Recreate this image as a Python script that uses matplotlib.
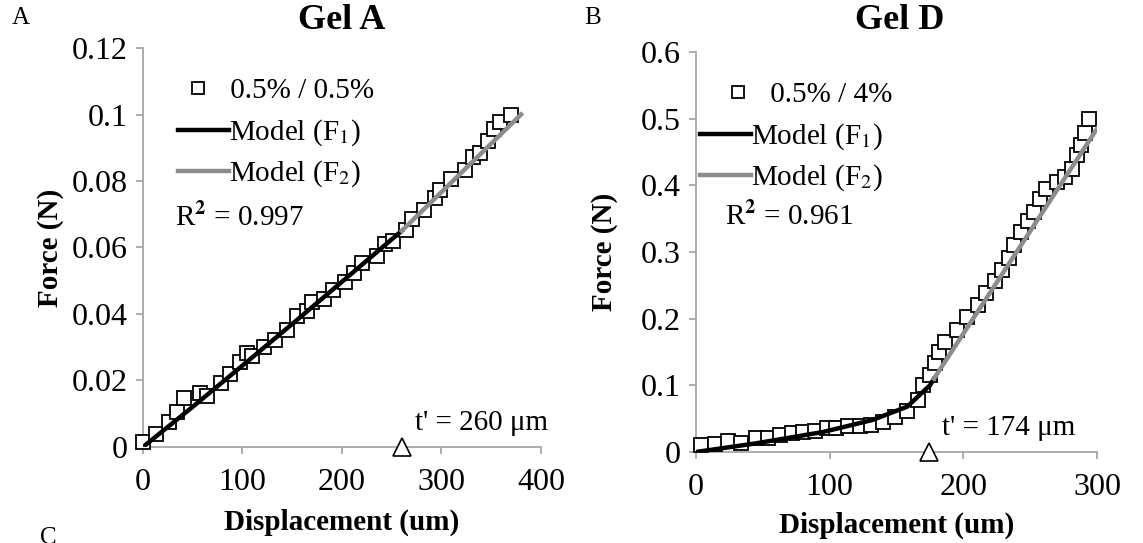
import matplotlib
matplotlib.use("Agg")
import matplotlib.pyplot as plt

plt.rcParams['font.family'] = ['Liberation Serif', 'DejaVu Serif']
plt.rcParams['mathtext.fontset'] = 'stix'

# Gel A (0.5% / 0.5%) measured points
gelA_x = [0, 13.5, 26, 34, 41, 57, 64, 78, 87, 97, 105, 110, 122, 133, 145, 155,
          165, 170, 182, 191, 203, 212, 220, 235, 243, 251, 264, 270, 282, 293,
          299, 310, 324, 332, 339, 347, 353, 359, 370]
gelA_y = [0.0014, 0.0038, 0.0074, 0.0105, 0.0148, 0.0162, 0.0154, 0.0193, 0.0219,
          0.0257, 0.0282, 0.0275, 0.0301, 0.0322, 0.0353, 0.0394, 0.0409, 0.0437,
          0.0445, 0.0471, 0.0497, 0.0523, 0.0554, 0.0574, 0.0610, 0.0621, 0.0652,
          0.0686, 0.0713, 0.0749, 0.0772, 0.0806, 0.0832, 0.0873, 0.0884, 0.0920,
          0.0956, 0.0976, 0.0997]
# model curves
gelA_f1_x = [0, 50, 100, 150, 200, 260]
gelA_f1_y = [0, 0.0121, 0.0245, 0.0370, 0.0497, 0.065]
gelA_f2_x = [260, 380]
gelA_f2_y = [0.065, 0.100]
gelA_t = 260

# Gel D (0.5% / 4%)
gelD_x = [4, 14, 24, 34, 45, 54, 63, 72, 80, 89, 98, 105, 114, 123, 131, 140,
          149, 158, 166, 170, 175, 179, 182, 186, 195, 203, 211, 217, 224, 229,
          234, 238, 243, 248, 253, 257, 262, 270, 276, 281, 285, 288, 291, 294]
gelD_y = [0.0105, 0.012, 0.017, 0.014, 0.0205, 0.021, 0.0255, 0.029, 0.030,
          0.0315, 0.0355, 0.0365, 0.039, 0.039, 0.0405, 0.0455, 0.053, 0.0615,
          0.078, 0.1, 0.115, 0.133, 0.150, 0.165, 0.183, 0.203, 0.2205, 0.238,
          0.256, 0.273, 0.291, 0.310, 0.330, 0.347, 0.360, 0.380, 0.395, 0.405,
          0.412, 0.425, 0.445, 0.46, 0.478, 0.50]
gelD_f1_x = [0, 45, 95, 132, 158, 175, 178]
gelD_f1_y = [0, 0.013, 0.030, 0.048, 0.068, 0.100, 0.110]
gelD_f2_x = [178, 300]
gelD_f2_y = [0.110, 0.485]
gelD_t = 174

axis_grey = '#a6a6a6'
model_grey = '#8c8c8c'

fig = plt.figure(figsize=(11.43, 5.43), dpi=100)
axA = fig.add_axes([0.1251, 0.1768, 0.3482, 0.7348])
axD = fig.add_axes([0.6089, 0.1676, 0.3509, 0.7366])


def style(ax, xlim, ylim, xticks, yticks, ylabels, ylab_x, xlab_y):
    ax.set_xlim(*xlim)
    ax.set_ylim(*ylim)
    ax.set_xticks(xticks)
    ax.set_yticks(yticks)
    ax.set_yticklabels(ylabels)
    for s in ['top', 'right']:
        ax.spines[s].set_visible(False)
    for s in ['left', 'bottom']:
        ax.spines[s].set_color(axis_grey)
        ax.spines[s].set_linewidth(1.3)
    ax.tick_params(direction='out', length=5, width=1.3, color=axis_grey,
                   labelsize=23)
    ax.tick_params(axis='x', pad=10)
    ax.tick_params(axis='y', pad=6)
    ax.set_xlabel('Displacement (um)', fontsize=21, fontweight='bold')
    ax.set_ylabel('Force (N)', fontsize=21, fontweight='bold')
    ax.yaxis.set_label_coords(ylab_x, 0.5)
    ax.xaxis.set_label_coords(0.5, xlab_y)


def panel(ax, x, y, f1x, f1y, f2x, f2y, t, name, r2, sq_x, leg_x, r2_xy):
    pts, = ax.plot(x, y, 's', ms=9.5, mfc='white', mec='black', mew=1.3,
                   clip_on=False, zorder=3)
    l1, = ax.plot(f1x, f1y, '-', color='black', lw=3.2, zorder=4)
    l2, = ax.plot(f2x, f2y, '-', color=model_grey, lw=3.2, zorder=4)
    ax.plot([t], [0], '^', ms=13, mfc='white', mec='black', mew=1.2,
            clip_on=False, zorder=5)
    kw = dict(loc='upper left', frameon=False, fontsize=21, handlelength=1.75,
              handletextpad=0.0, labelspacing=0.36, borderaxespad=0, borderpad=0)
    leg1 = ax.legend([pts], [' ' + name], bbox_to_anchor=(sq_x, 0.925),
                     markerscale=0.9, **kw)
    ax.add_artist(leg1)
    ax.legend([l1, l2], ['Model (F$_1$)', 'Model (F$_2$)'],
              bbox_to_anchor=(leg_x, 0.826), **kw)
    ax.text(r2_xy[0], r2_xy[1], 'R$^\\mathbf{2}$ = ' + r2, transform=ax.transAxes,
            fontsize=21, va='center')
    ax.annotate("t' = %d \u03bcm" % t, xy=(t, 0), xytext=(13, 24),
                textcoords='offset pixels', fontsize=21, va='center', zorder=6)


panel(axA, gelA_x, gelA_y, gelA_f1_x, gelA_f1_y, gelA_f2_x, gelA_f2_y,
      gelA_t, '0.5% / 0.5%', '0.997', 0.073, 0.088, (0.08, 0.575))
style(axA, (0, 400), (0, 0.12), [0, 100, 200, 300, 400],
      [0, 0.02, 0.04, 0.06, 0.08, 0.1, 0.12],
      ['0', '0.02', '0.04', '0.06', '0.08', '0.1', '0.12'], -0.198, -0.155)
axA.text(0.5, 1.068, 'Gel A', transform=axA.transAxes, fontsize=26,
         fontweight='bold', ha='center', va='center')

panel(axD, gelD_x, gelD_y, gelD_f1_x, gelD_f1_y, gelD_f2_x, gelD_f2_y,
      gelD_t, '0.5% / 4%', '0.961', 0.04, 0.01, (0.072, 0.587))
style(axD, (0, 300), (0, 0.6), [0, 100, 200, 300],
      [0, 0.1, 0.2, 0.3, 0.4, 0.5, 0.6],
      ['0', '0.1', '0.2', '0.3', '0.4', '0.5', '0.6'], -0.195, -0.15)
axD.text(0.509, 1.078, 'Gel D', transform=axD.transAxes, fontsize=26,
         fontweight='bold', ha='center', va='center')

fig.text(0.0105, 0.967, 'A', fontsize=18, va='center')
fig.text(0.511, 0.967, 'B', fontsize=18, va='center')
fig.text(0.035, 1 - 527 / 543, 'C', fontsize=18, va='top')

fig.savefig('out.png', dpi=100)
